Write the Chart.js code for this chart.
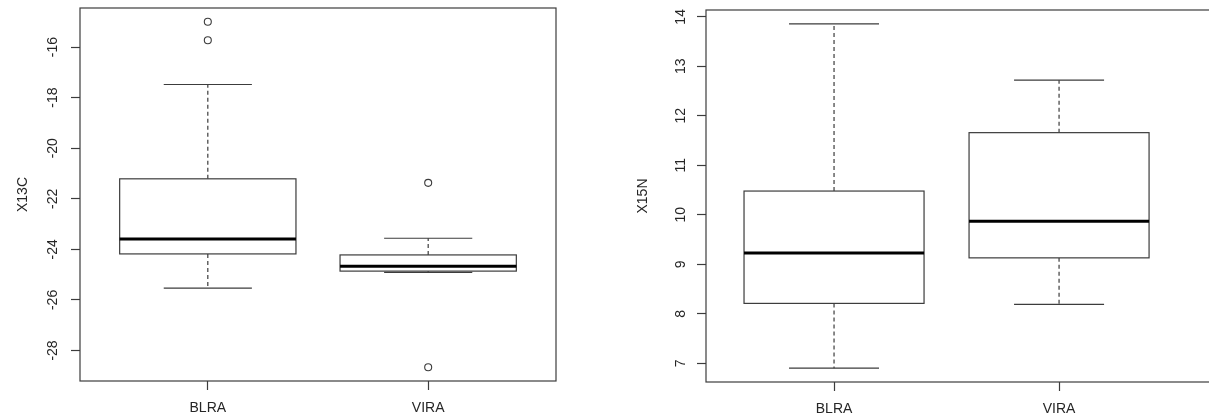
<!DOCTYPE html>
<html>
<head>
<meta charset="utf-8">
<script src="https://cdn.jsdelivr.net/npm/chart.js@4/dist/chart.umd.min.js"></script>
<style>
  html, body { margin:0; padding:0; background:#fff; width:1209px; height:418px; overflow:hidden; }
  #c1 { position:absolute; left:0; top:0; }
  #c2 { position:absolute; left:604px; top:0; }
</style>
</head>
<body>
<canvas id="c1" width="604" height="418"></canvas>
<canvas id="c2" width="620" height="418"></canvas>
<script>
// ---- data ----
const categories = ['BLRA', 'VIRA'];

// X13C panel
const x13cLowerWhisker = [-25.53, -24.91];
const x13cQ1           = [-24.18, -24.86];
const x13cMedian       = [-23.59, -24.67];
const x13cQ3           = [-21.21, -24.22];
const x13cUpperWhisker = [-17.48, -23.56];
const x13cOutliersBLRA = [-15.00, -15.73];
const x13cOutliersVIRA = [-21.37, -28.66];
const x13cTicks = [-28, -26, -24, -22, -20, -18, -16];

// X15N panel
const x15nLowerWhisker = [6.90, 8.19];
const x15nQ1           = [8.21, 9.13];
const x15nMedian       = [9.23, 9.87];
const x15nQ3           = [10.48, 11.66];
const x15nUpperWhisker = [13.86, 12.72];
const x15nOutliersBLRA = [];
const x15nOutliersVIRA = [];
const x15nTicks = [7, 8, 9, 10, 11, 12, 13, 14];

const catTicks = [1, 2];

// ---- drawing ----
const LINE = '#3c3c3c';
const TEXT = '#262626';
Chart.defaults.font.family = '"Liberation Sans", Arial, sans-serif';
Chart.defaults.font.size = 14;
Chart.defaults.color = TEXT;

const boxPlugin = {
  id: 'boxes',
  beforeDatasetsDraw(chart, args, opts) {
    const ctx = chart.ctx, xs = chart.scales.x, ys = chart.scales.y;
    const ca = chart.chartArea;
    ctx.save();
    ctx.beginPath();
    ctx.rect(ca.left, ca.top, ca.right - ca.left, ca.bottom - ca.top);
    ctx.clip();
    const n = opts.median.length;
    for (let i = 0; i < n; i++) {
      const c = i + 1;
      const xc = xs.getPixelForValue(c);
      const xl = xs.getPixelForValue(c - 0.4), xr = xs.getPixelForValue(c + 0.4);
      const cl = xs.getPixelForValue(c - 0.2), cr = xs.getPixelForValue(c + 0.2);
      const yLo = ys.getPixelForValue(opts.lower[i]);
      const yQ1 = ys.getPixelForValue(opts.q1[i]);
      const yMed = ys.getPixelForValue(opts.median[i]);
      const yQ3 = ys.getPixelForValue(opts.q3[i]);
      const yHi = ys.getPixelForValue(opts.upper[i]);
      ctx.strokeStyle = LINE;
      ctx.lineWidth = 1.2;
      // whiskers (dashed)
      ctx.setLineDash([4, 3]);
      ctx.beginPath();
      ctx.moveTo(xc, yQ3); ctx.lineTo(xc, yHi);
      ctx.moveTo(xc, yQ1); ctx.lineTo(xc, yLo);
      ctx.stroke();
      ctx.setLineDash([]);
      // staples
      ctx.beginPath();
      ctx.moveTo(cl, yHi); ctx.lineTo(cr, yHi);
      ctx.moveTo(cl, yLo); ctx.lineTo(cr, yLo);
      ctx.stroke();
      // box
      ctx.fillStyle = '#fff';
      ctx.fillRect(xl, yQ3, xr - xl, yQ1 - yQ3);
      ctx.strokeRect(xl, yQ3, xr - xl, yQ1 - yQ3);
      // median
      ctx.strokeStyle = '#000';
      ctx.lineWidth = 3;
      ctx.beginPath();
      ctx.moveTo(xl, yMed); ctx.lineTo(xr, yMed);
      ctx.stroke();
    }
    ctx.restore();
  },
  afterDraw(chart) {
    const ctx = chart.ctx, ca = chart.chartArea;
    ctx.save();
    ctx.strokeStyle = LINE;
    ctx.lineWidth = 1.2;
    ctx.strokeRect(ca.left, ca.top, ca.right - ca.left, ca.bottom - ca.top);
    ctx.restore();
  }
};

function rLimits(vals) {
  const lo = Math.min(...vals), hi = Math.max(...vals);
  const e = (hi - lo) * 0.04;
  return [lo - e, hi + e];
}

function makeChart(id, cfg) {
  const outlierPts = [];
  cfg.outliers.forEach((arr, i) => arr.forEach(v => outlierPts.push({ x: i + 1, y: v })));
  const [ymin, ymax] = rLimits([...cfg.lower, ...cfg.upper, ...cfg.outliers.flat()]);
  return new Chart(document.getElementById(id), {
    type: 'scatter',
    data: {
      datasets: [{
        data: outlierPts,
        pointStyle: 'circle',
        pointRadius: 3.5,
        pointBorderWidth: 1.1,
        borderColor: LINE,
        backgroundColor: 'rgba(0,0,0,0)',
        showLine: false
      }]
    },
    options: {
      responsive: false,
      animation: false,
      events: [],
      layout: { padding: cfg.padding },
      plugins: {
        legend: { display: false },
        tooltip: { enabled: false },
        boxes: { lower: cfg.lower, q1: cfg.q1, median: cfg.median, q3: cfg.q3, upper: cfg.upper }
      },
      scales: {
        x: {
          type: 'linear',
          min: cfg.xmin, max: cfg.xmax,
          afterBuildTicks: s => { s.ticks = catTicks.map(v => ({ value: v })); },
          afterFit: s => { s.height = cfg.xHeight; s.paddingLeft = 0; s.paddingRight = 0; },
          ticks: {
            autoSkip: false, maxRotation: 0, padding: 10,
            callback: v => categories[v - 1]
          },
          grid: { drawOnChartArea: false, drawTicks: true, tickLength: 9, tickColor: LINE, tickWidth: 1.2 },
          border: { display: false }
        },
        y: {
          type: 'linear',
          min: ymin, max: ymax,
          afterBuildTicks: s => { s.ticks = cfg.ticks.map(v => ({ value: v })); },
          afterFit: s => { s.width = cfg.yWidth; s.paddingTop = 0; s.paddingBottom = 0; },
          ticks: {
            autoSkip: false, minRotation: 90, maxRotation: 90, crossAlign: 'center', padding: 8,
            callback: v => String(v)
          },
          grid: { drawOnChartArea: false, drawTicks: true, tickLength: 9, tickColor: LINE, tickWidth: 1.2 },
          border: { display: false },
          title: { display: true, text: cfg.title, padding: { top: cfg.titlePad, bottom: 0 }, font: { size: 14 } }
        }
      }
    },
    plugins: [boxPlugin]
  });
}

makeChart('c1', {
  lower: x13cLowerWhisker, q1: x13cQ1, median: x13cMedian, q3: x13cQ3, upper: x13cUpperWhisker,
  outliers: [x13cOutliersBLRA, x13cOutliersVIRA],
  ticks: x13cTicks, title: 'X13C',
  xmin: 0.42, xmax: 2.58,
  padding: { top: 8, right: 48, bottom: 0, left: 0 },
  yWidth: 80, xHeight: 37, titlePad: 14.6
});

makeChart('c2', {
  lower: x15nLowerWhisker, q1: x15nQ1, median: x15nMedian, q3: x15nQ3, upper: x15nUpperWhisker,
  outliers: [x15nOutliersBLRA, x15nOutliersVIRA],
  ticks: x15nTicks, title: 'X15N',
  xmin: 0.431, xmax: 2.693,
  padding: { top: 10, right: 9, bottom: 0, left: 0 },
  yWidth: 102, xHeight: 36, titlePad: 30.6
});
</script>
</body>
</html>
